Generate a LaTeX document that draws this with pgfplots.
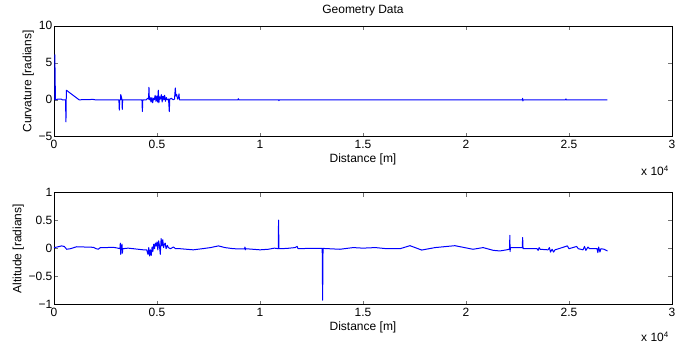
\documentclass[border=0pt]{standalone}
\usepackage{fontspec}
\setmainfont{Liberation Sans}
\usepackage{pgfplots}
\pgfplotsset{compat=1.18}
\begin{document}
\fontsize{12}{14}\selectfont
\begin{tikzpicture}
\pgfplotsset{
 mystyle/.style={
  scale only axis, width=618pt,
  xmin=0, xmax=30000,
  xtick={0,5000,10000,15000,20000,25000,30000},
  xticklabels={0,0.5,1,1.5,2,2.5,3},
  scaled x ticks=false,
  tick align=inside, major tick length=4pt,
  axis line style={line width=0.9pt, black},
  tick style={line width=0.6pt, black!55},
  ticklabel style={font=\fontsize{12}{14}\selectfont, black, inner sep=1.5pt},
  xticklabel style={yshift=-1.5pt},
  yticklabel style={yshift=0.5pt},
  label style={font=\fontsize{12}{14}\selectfont},
  xlabel={Distance [m]},
  xlabel style={yshift=0pt},
  ylabel style={yshift=-1pt},
  clip=false,
  no markers,
  every axis plot/.append style={blue, line width=1pt, line join=round},
 }}
\begin{axis}[mystyle, at={(54pt,-136.7pt)}, anchor=south west, height=110.7pt,
  ymin=-5, ymax=10, ytick={-5,0,5,10}, yticklabels={−5,0,5,10},
  ylabel={Curvature [radians]},
  title={Geometry Data}, title style={font=\fontsize{12}{14}\selectfont, yshift=0pt}]
\addplot coordinates {
(40,0) (40,6.1) (70,0) (200,0.1) (350,0.1) (400,0) (560,0) (580,-3.0) (600,1.3) (1220,0)
(1900,0.05) (2000,0) (3150,0) (3170,-1.4) (3190,0) (3230,0) (3240,0.7) (3270,0.4) (3300,0)
(3315,-1.3) (3330,0) (4270,0) (4290,-1.6) (4310,0) (4480,0) (4540,0.2) (4590,0.1) (4610,1.7)
(4630,0.0) (4670,0.3) (4710,-0.3) (4750,0.3) (4790,-0.4) (4830,0.2) (4870,0.0) (4910,0.6)
(4950,-0.2) (4990,0.5) (5030,-0.3) (5063,1.3) (5090,-0.4) (5130,0.4) (5170,0.1) (5210,0.7)
(5250,-0.3) (5290,0.5) (5330,0.0) (5370,0.6) (5410,-0.2) (5450,0.3) (5500,0.0) (5560,0.1)
(5597,-1.6) (5620,0.1) (5700,0.2) (5780,0.0) (5850,0.1) (5888,1.6) (5920,0.5) (5960,0.7)
(6000,0.1) (6040,0.3) (6068,0.8) (6090,0.0) (6120,0)
(8930,0) (8950,0.15) (8970,0) (10900,0) (10920,-0.12) (10940,0)
(22730,0) (22750,0.2) (22760,-0.15) (22780,0) (24830,0) (24850,0.12) (24870,0) (26860,0)
};
\end{axis}
\node at (655pt,-171pt) {x 10\textsuperscript{4}};
\begin{axis}[mystyle, at={(54pt,-304.7pt)}, anchor=south west, height=112pt,
  ymin=-1, ymax=1, ytick={-1,-0.5,0,0.5,1}, yticklabels={−1,−0.5,0,0.5,1},
  ylabel={Altitude [radians]}]
\addplot coordinates {
(0,0.02) (150,0.03) (370,0.05) (500,0.04) (615,-0.01) (800,0.0) (1100,0.035) (1500,0.03)
(1910,0.025) (2050,0.0) (2150,-0.01) (2250,0.02) (2500,0.02) (2880,0.025) (3100,0.01)
(3200,0.0) (3220,0.1) (3240,-0.1) (3260,0.02) (3300,0.08) (3320,-0.08) (3340,0.0)
(3600,0.01) (3850,0.0) (4335,-0.02) (4500,-0.02) (4560,-0.1) (4600,0.02) (4640,-0.13)
(4680,-0.02) (4720,-0.12) (4760,0.03) (4800,-0.05) (4840,0.08) (4880,0.0) (4920,0.1)
(4960,0.05) (5000,0.12) (5040,-0.02) (5080,0.14) (5120,0.05) (5160,-0.1) (5200,0.18)
(5240,0.05) (5280,0.16) (5320,0.02) (5360,0.08) (5400,0.1) (5440,0.0) (5500,0.06)
(5550,0.02) (5650,0.0) (5800,0.03) (5900,0.0) (6115,0.0) (6760,-0.02) (7200,0.0)
(7600,0.02) (7980,0.05) (8300,0.02) (8700,0.0) (9250,-0.005) (9270,0.03) (9290,-0.02)
(9300,0.0) (10000,-0.02) (10400,-0.01) (10700,0.01) (10890,0.0) (10900,0.51) (10920,0.0)
(11300,0.005) (11700,0.02) (11800,0.04) (11850,0.0) (12300,0.005) (13020,0.005)
(13040,-0.92) (13060,0.005) (13880,-0.01) (14520,0.02) (15000,0.01) (15600,0.02)
(16150,0.0) (16800,0.0) (17280,0.054) (17850,-0.024) (18500,0.02) (19460,0.054)
(20340,-0.01) (20830,0.02) (21330,-0.03) (21650,-0.04) (21970,-0.02) (22110,-0.01)
(22130,0.24) (22140,-0.05) (22160,0.02) (22400,0.02) (22730,0.02) (22750,0.2) (22770,0.0)
(23450,0.0) (23500,-0.03) (23550,0.02) (23600,-0.01) (23980,-0.02) (24050,0.02)
(24100,-0.06) (24180,-0.01) (24250,-0.06) (24320,-0.02) (24500,0.0) (24920,0.05)
(25000,0.0) (25370,0.04) (25450,0.0) (25680,-0.02) (25750,0.04) (25820,-0.03)
(25920,0.03) (26000,0.0) (26360,0.0) (26400,-0.07) (26440,0.03) (26500,-0.06)
(26550,0.0) (26700,-0.01) (26870,-0.04)
};
\end{axis}
\node at (655pt,-337pt) {x 10\textsuperscript{4}};
\pgfresetboundingbox
\useasboundingbox (0pt,0pt) rectangle (688pt,-345pt);
\end{tikzpicture}
\end{document}
